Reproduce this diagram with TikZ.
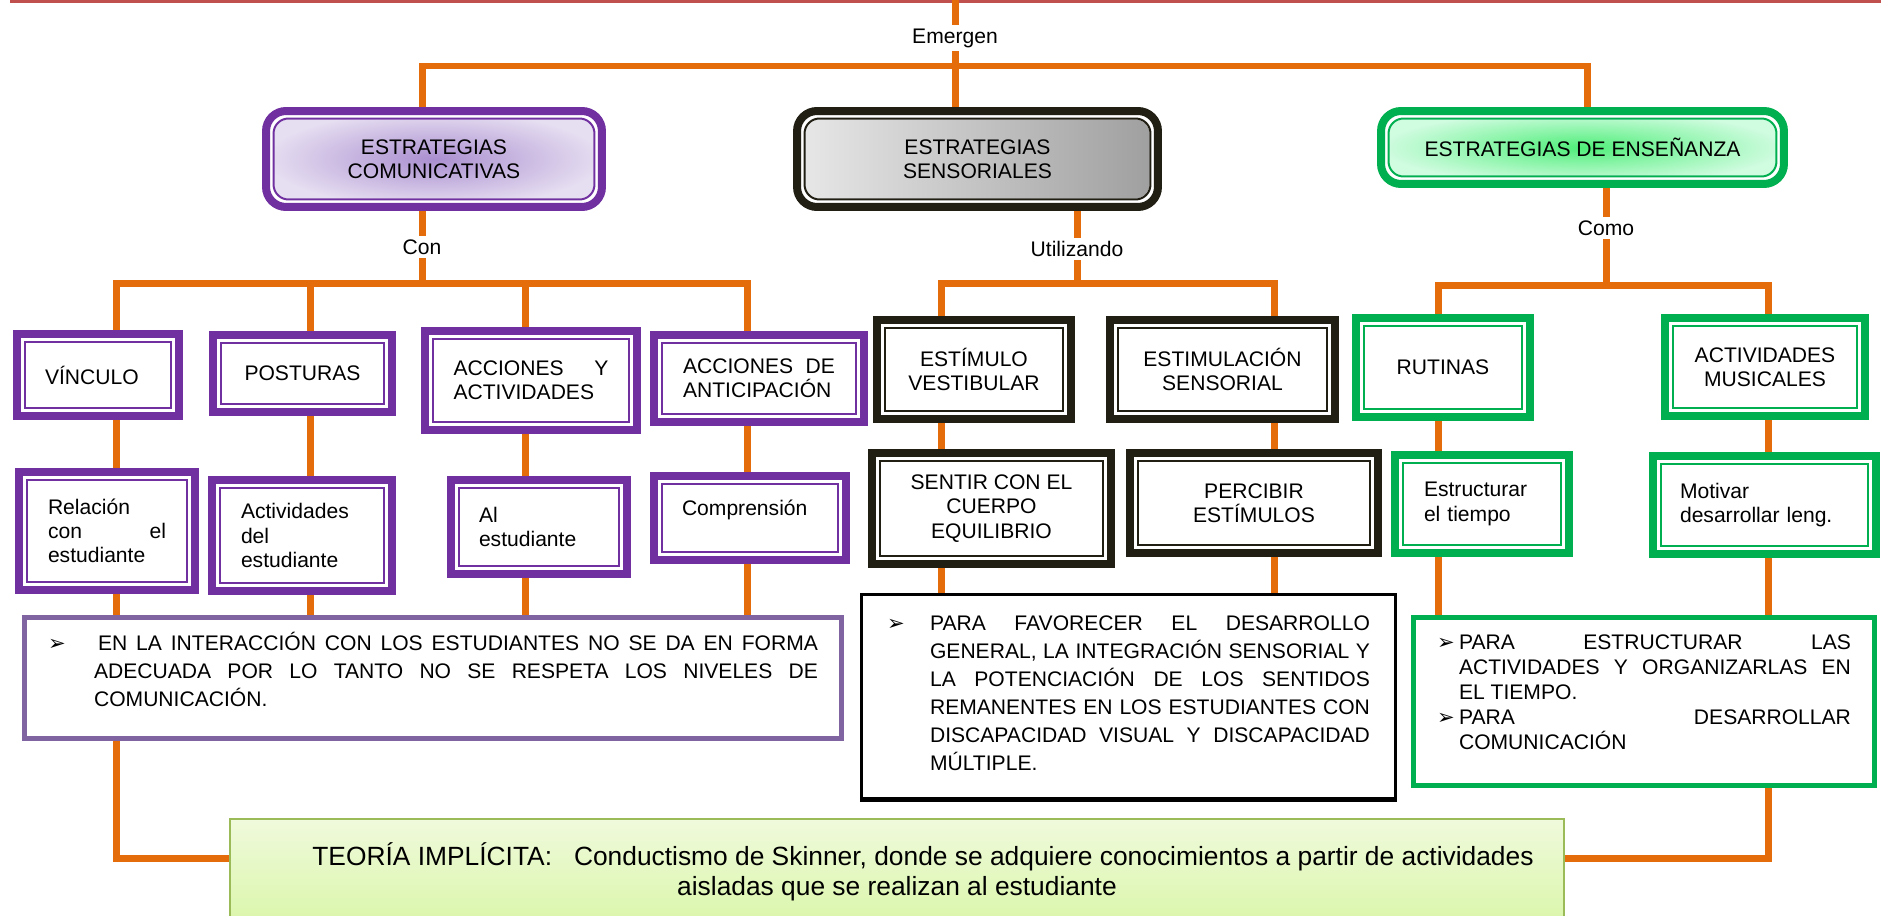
\documentclass[tikz,border=0pt]{standalone}
\usepackage{fontspec}
\setmainfont{Liberation Sans}
\newfontfamily\symfont{DejaVu Sans}
\usepackage{tikz}
\usetikzlibrary{backgrounds}
\definecolor{cpurple}{RGB}{112,48,160}
\definecolor{lpurple}{RGB}{128,100,162}
\definecolor{cblack}{RGB}{33,30,20}
\definecolor{cgreen}{RGB}{0,176,80}
\definecolor{corange}{RGB}{228,108,10}
\definecolor{cred}{RGB}{192,80,77}
\definecolor{olive}{RGB}{155,187,89}
\definecolor{lilac}{RGB}{170,143,208}
\definecolor{lilacout}{RGB}{230,222,241}
\definecolor{mint}{RGB}{80,238,122}
\definecolor{mintout}{RGB}{208,252,224}
\definecolor{lime}{RGB}{240,250,220}
\definecolor{limedark}{RGB}{218,246,170}

\tikzset{
  box/.style={rectangle, draw=#1, line width=0.16cm, fill=white, align=center,
    path picture={\draw[#1, line width=0.04cm]
      ([shift={(0.15cm,-0.15cm)}]path picture bounding box.north west) rectangle
      ([shift={(-0.15cm,0.15cm)}]path picture bounding box.south east);}},
  head/.style 2 args={rectangle, rounded corners=0.4cm, draw=#1, line width=0.16cm,
    fill=white, align=center,
    path picture={
      \shade[#2, rounded corners=0.28cm]
        ([shift={(0.17cm,-0.17cm)}]path picture bounding box.north west) rectangle
        ([shift={(-0.17cm,0.17cm)}]path picture bounding box.south east);
      \draw[#1, line width=0.04cm, rounded corners=0.3cm]
        ([shift={(0.15cm,-0.15cm)}]path picture bounding box.north west) rectangle
        ([shift={(-0.15cm,0.15cm)}]path picture bounding box.south east);}},
  note/.style={rectangle, draw=#1, fill=white, align=justify},
  conn/.style={draw=corange, line width=0.14cm},
  lbl/.style={fill=white, inner sep=2pt}
}

\begin{document}
\begin{tikzpicture}[x=0.02cm, y=-0.02cm, font=\fontsize{12}{13.8}\selectfont]
  \useasboundingbox (0,0) rectangle (1881,916);

  \node[head={cpurple}{inner color=lilac, outer color=lilacout}, minimum width=6.72cm, minimum height=1.92cm] (comunic) at (434,159) {ESTRATEGIAS\\COMUNICATIVAS};
  \node[head={cblack}{left color=black!9, right color=black!38}, minimum width=7.22cm, minimum height=1.92cm] (sensor) at (977.5,159) {ESTRATEGIAS\\SENSORIALES};
  \node[head={cgreen}{inner color=mint, outer color=mintout}, minimum width=8.06cm, minimum height=1.46cm] (ensen) at (1582.5,147.5) {ESTRATEGIAS DE ENSEÑANZA};

  \node[box=cpurple, minimum width=3.24cm, minimum height=1.64cm, text width=2.12cm, align=left] (vinculo) at (98,375) {VÍNCULO};
  \node[box=cpurple, minimum width=3.58cm, minimum height=1.54cm] (posturas) at (302.5,373.5) {POSTURAS};
  \node[box=cpurple, minimum width=4.24cm, minimum height=1.98cm, text width=3.1cm, align=left] (acciones) at (531,380.5) {ACCIONES \hfill Y\\ACTIVIDADES};
  \node[box=cpurple, minimum width=4.2cm, minimum height=1.74cm, text width=3.04cm, align=left] (anticip) at (759,378.5) {ACCIONES \hfill DE\\ANTICIPACIÓN};

  \node[box=cpurple, minimum width=3.52cm, minimum height=2.36cm, text width=2.36cm, align=left] (relacion) at (107,531) {Relación\\con \hfill el\\estudiante};
  \node[box=cpurple, minimum width=3.6cm, minimum height=2.22cm, text width=2.44cm, align=left] (activest) at (302,535.5) {Actividades\\del\\estudiante};
  \node[box=cpurple, minimum width=3.52cm, minimum height=1.88cm, text width=2.4cm, align=left] (alest) at (539,527) {Al\\estudiante};
  \node[box=cpurple, minimum width=3.84cm, minimum height=1.68cm, text width=2.72cm, align=left, text height=0.4cm, text depth=0.5cm] (compren) at (750,518) {Comprensión};

  \node[box=cblack, minimum width=3.88cm, minimum height=1.98cm] (vestib) at (974,369.5) {ESTÍMULO\\VESTIBULAR};
  \node[box=cblack, minimum width=4.5cm, minimum height=1.98cm] (estimsens) at (1222.5,369.5) {ESTIMULACIÓN\\SENSORIAL};
  \node[box=cblack, minimum width=4.78cm, minimum height=2.22cm] (sentir) at (991.5,508.5) {SENTIR CON EL\\CUERPO\\EQUILIBRIO};
  \node[box=cblack, minimum width=4.96cm, minimum height=2.0cm] (percibir) at (1254,503) {PERCIBIR\\ESTÍMULOS};

  \node[box=cgreen, minimum width=3.48cm, minimum height=1.98cm] (rutinas) at (1443,367.5) {RUTINAS};
  \node[box=cgreen, minimum width=4.0cm, minimum height=1.96cm] (musicales) at (1765,367) {ACTIVIDADES\\MUSICALES};
  \node[box=cgreen, minimum width=3.48cm, minimum height=1.96cm, text width=2.32cm, align=left] (estruct) at (1482,504) {Estructurar\\el tiempo};
  \node[box=cgreen, minimum width=4.46cm, minimum height=1.96cm, text width=3.38cm, align=left] (motivar) at (1764.5,505) {Motivar\\desarrollar leng.};

  \node[note=lpurple, line width=0.1cm, minimum width=16.34cm, minimum height=2.42cm, text width=15.4cm, text height=0.4cm, text depth=1.5cm, font=\fontsize{12}{15.9}\selectfont] (interac) at (433,678)
    {\hangindent=0.92cm\hangafter=1\makebox[1cm][l]{\symfont ➢}EN LA INTERACCIÓN CON LOS ESTUDIANTES NO SE DA EN FORMA\linebreak ADECUADA POR LO TANTO NO SE RESPETA LOS NIVELES DE\linebreak COMUNICACIÓN.\par};
  \node[note=black, line width=0.06cm, minimum width=10.68cm, minimum height=4.08cm, text width=9.66cm, text height=0.4cm, text depth=3.04cm, font=\fontsize{12}{15.9}\selectfont] (favorec) at (1128.5,696.5)
    {\hangindent=0.86cm\hangafter=1\makebox[0.86cm][l]{\symfont ➢}PARA FAVORECER EL DESARROLLO\linebreak GENERAL, LA INTEGRACIÓN SENSORIAL Y\linebreak LA POTENCIACIÓN DE LOS SENTIDOS\linebreak REMANENTES EN LOS ESTUDIANTES CON\linebreak DISCAPACIDAD VISUAL Y DISCAPACIDAD\linebreak MÚLTIPLE.\par};
  \draw[line width=0.1cm] (favorec.south west) -- (favorec.south east);
  \node[note=cgreen, line width=0.1cm, minimum width=9.22cm, minimum height=3.36cm, text width=8.28cm, text height=0.4cm, text depth=2.48cm, font=\fontsize{12}{14.2}\selectfont] (verde) at (1644,701.5)
    {\hangindent=0.44cm\hangafter=1\makebox[0.44cm][l]{\symfont ➢}PARA ESTRUCTURAR LAS\linebreak ACTIVIDADES Y ORGANIZARLAS EN\linebreak EL TIEMPO.\par
     \hangindent=0.44cm\hangafter=1\makebox[0.44cm][l]{\symfont ➢}PARA DESARROLLAR\linebreak COMUNICACIÓN\par};

  \node[rectangle, draw=olive, line width=0.04cm, top color=lime, bottom color=limedark, minimum width=26.68cm, minimum height=2.1cm, align=center, font=\fontsize{15}{17}\selectfont] (teoria) at (897,871.5)
    {\hspace*{1.04cm}TEORÍA IMPLÍCITA:\ \ \ Conductismo de Skinner, donde se adquiere conocimientos a partir de actividades\\aisladas que se realizan al estudiante};

  \coordinate (top) at (955,0);
  \coordinate (e1) at (422,66);
  \coordinate (e2) at (1587,66);
  \coordinate (c0) at (422,283);
  \coordinate (c1) at (116,283);
  \coordinate (c2) at (310,283);
  \coordinate (c3) at (525,283);
  \coordinate (c4) at (747,283);
  \coordinate (u0) at (1077,283);
  \coordinate (u1) at (941,283);
  \coordinate (u2) at (1274,283);
  \coordinate (m0) at (1606,285);
  \coordinate (m1) at (1438,285);
  \coordinate (m2) at (1768,285);
  \coordinate (j) at (0,858);

  \begin{pgfonlayer}{background}
    \fill[white] (0,0) rectangle (1881,916);
    \draw[cred, line width=0.06cm] (10,1.5) -- (1881,1.5);
    \draw[conn] (top) -- (top |- sensor.north);
    \draw[conn] (e1 |- comunic.north) -- (e1) -- (e2) -- (e2 |- ensen.north);
    \draw[conn] (comunic.south -| c0) -- (c0);
    \draw[conn] (c1 |- interac.north) -- (c1) -- (c4) -- (c4 |- interac.north);
    \draw[conn] (c2) -- (c2 |- interac.north);
    \draw[conn] (c3) -- (c3 |- interac.north);
    \draw[conn] (sensor.south -| u0) -- (u0);
    \draw[conn] (u1 |- favorec.north) -- (u1) -- (u2) -- (u2 |- favorec.north);
    \draw[conn] (ensen.south -| m0) -- (m0);
    \draw[conn] (m1 |- verde.north) -- (m1) -- (m2) -- (m2 |- verde.north);
    \draw[conn] (c1 |- interac.south) -- (c1 |- j) -- (teoria.west |- j);
    \draw[conn] (m2 |- verde.south) -- (m2 |- j) -- (teoria.east |- j);
  \end{pgfonlayer}

  \node[lbl] (emergen) at (955,38) {Emergen};
  \node[lbl] (con) at (422,247) {Con};
  \node[lbl] (utiliz) at (1077,249) {Utilizando};
  \node[lbl] (como) at (1606,228) {Como};
\end{tikzpicture}
\end{document}
